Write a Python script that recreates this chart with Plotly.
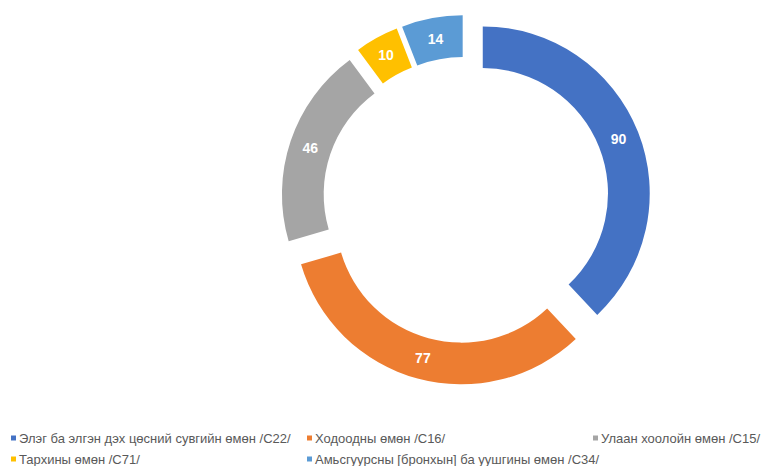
import plotly.graph_objects as go

labels = [
    "Элэг ба элгэн дэх цөсний сувгийн өмөн /C22/",
    "Ходоодны өмөн /C16/",
    "Улаан хоолойн өмөн /C15/",
    "Тархины өмөн /C71/",
    "Амьсгуурсны [бронхын] ба уушгины өмөн /C34/",
]
values = [90, 77, 46, 10, 14]
colors = ["#4472C4", "#ED7D31", "#A5A5A5", "#FFC000", "#5B9BD5"]

W, H = 770, 466
OFF = 8  # page body margin offset
cx, cy, half = 466 - OFF, 200 - OFF, 185

fig = go.Figure(
    go.Pie(
        labels=labels,
        values=values,
        marker=dict(colors=colors, line=dict(width=0)),
        hole=0.75,
        pull=0.108,
        sort=False,
        direction="clockwise",
        rotation=0,
        textinfo="value",
        textposition="inside",
        insidetextorientation="horizontal",
        textfont=dict(family="Liberation Sans, Arial, sans-serif", size=14, color="white", weight="bold"),
        domain=dict(x=[(cx - half) / W, (cx + half) / W],
                    y=[(H - cy - half) / H, (H - cy + half) / H]),
        showlegend=False,
    )
)

# legend drawn as small squares + text (3 columns, 2 rows)
col_x = [11 - OFF, 307 - OFF, 593 - OFF]
row_y = [438 - OFF, 459 - OFF]
sq = 5
shapes = []
annotations = []
for i, (lab, col) in enumerate(zip(labels, colors)):
    r, c = divmod(i, 3)
    x0 = col_x[c]
    y0 = row_y[r]
    shapes.append(dict(
        type="rect", xref="paper", yref="paper",
        x0=x0 / W, x1=(x0 + sq) / W,
        y0=1 - (y0 + sq / 2) / H, y1=1 - (y0 - sq / 2) / H,
        fillcolor=col, line=dict(width=0),
    ))
    annotations.append(dict(
        text=lab, xref="paper", yref="paper",
        x=(x0 + sq + 1) / W, y=1 - y0 / H,
        xanchor="left", yanchor="middle", showarrow=False,
        font=dict(family="Liberation Sans, Arial, sans-serif", size=13, color="#595959"),
    ))

fig.update_layout(
    width=W,
    height=H,
    margin=dict(l=0, r=0, t=0, b=0),
    paper_bgcolor="white",
    plot_bgcolor="white",
    showlegend=False,
    shapes=shapes,
    annotations=annotations,
)

fig.write_html("out.html")
